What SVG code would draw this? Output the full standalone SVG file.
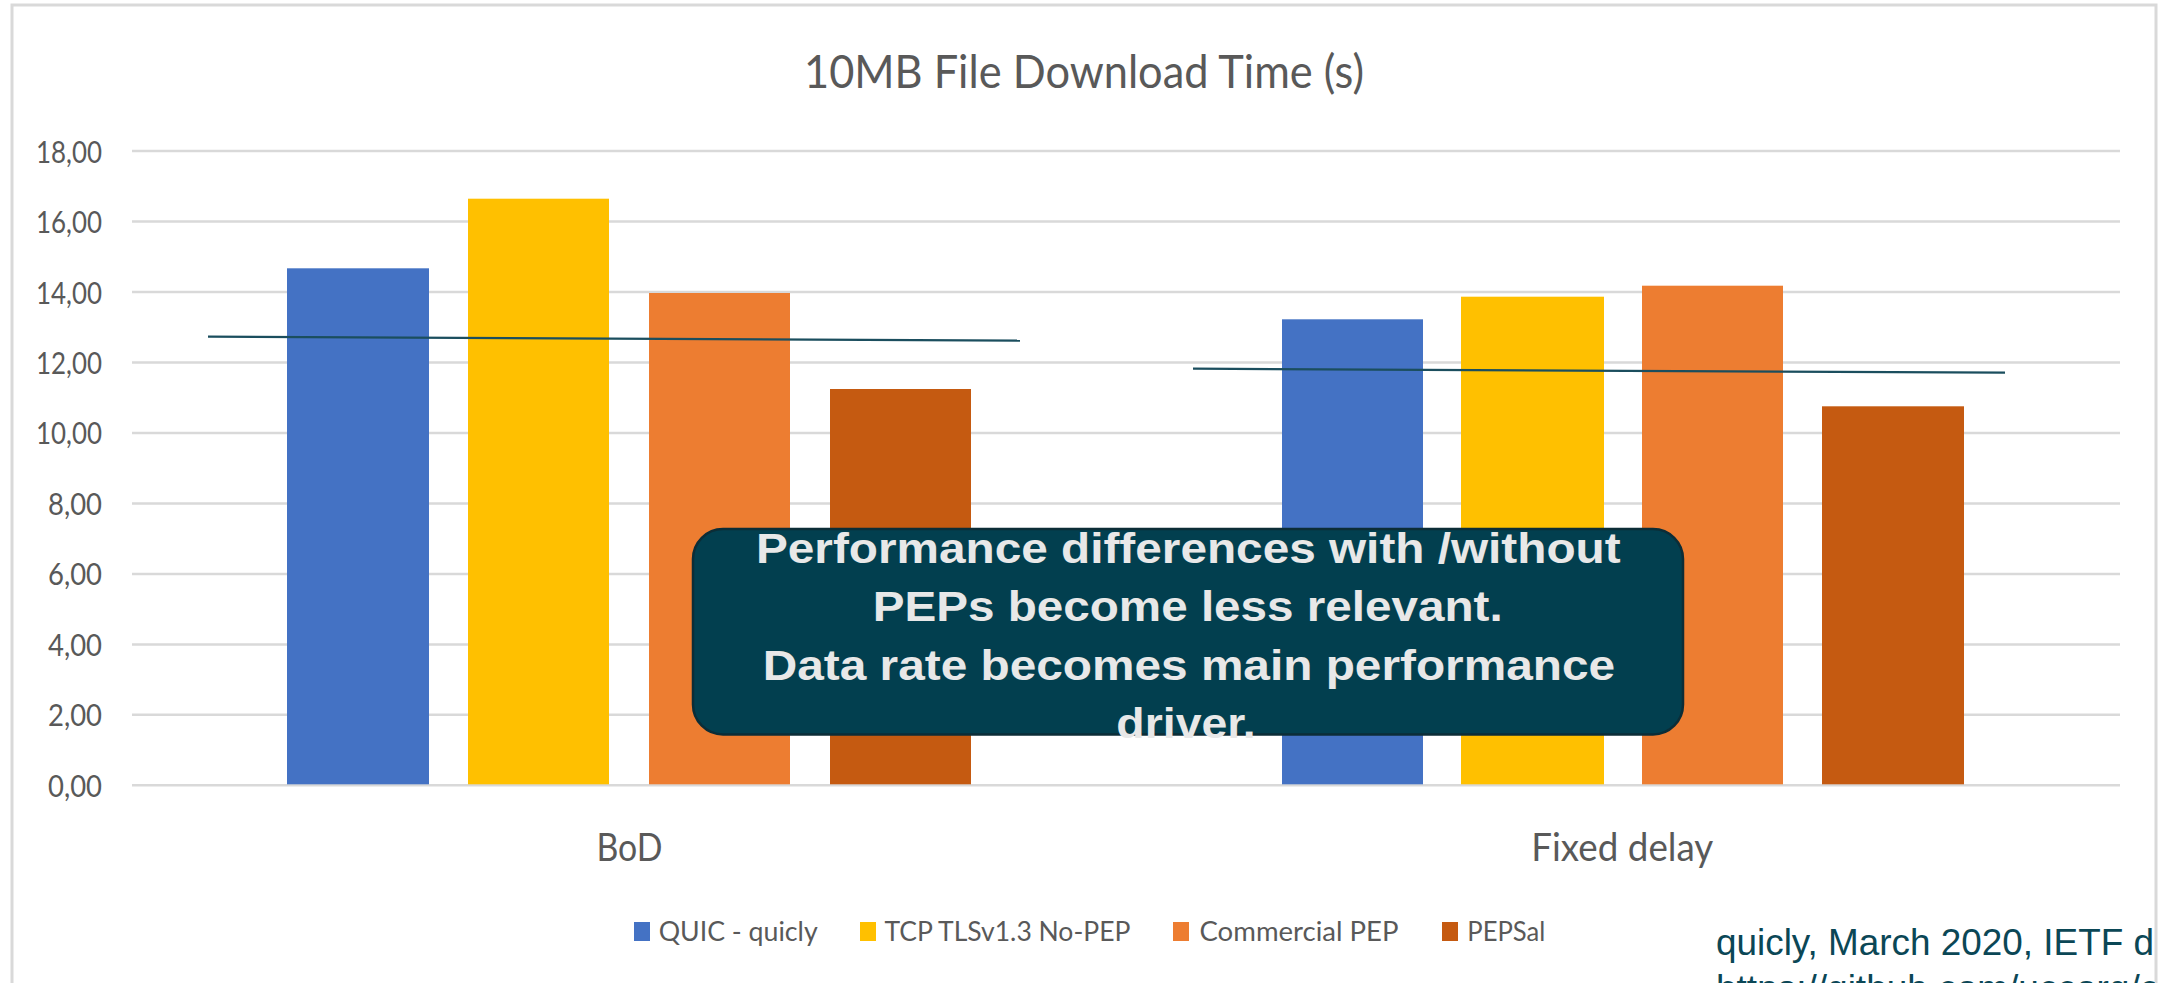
<svg xmlns="http://www.w3.org/2000/svg" width="2160" height="983" viewBox="0 0 2160 983">
  <style>
    .grid { stroke: #d9d9d9; stroke-width: 2.5; }
    .ylab { font-family: Lato, "Open Sans", sans-serif; font-size: 30px; fill: #595959; text-anchor: end; }
    .cat { font-family: Lato, "Open Sans", sans-serif; font-size: 38px; fill: #595959; text-anchor: middle; }
    .leg { font-family: Lato, "Open Sans", sans-serif; font-size: 27px; fill: #595959; }
    .title { font-family: Lato, "Open Sans", sans-serif; font-size: 46px; fill: #595959; }
    .trend { stroke: #1b4e5e; stroke-width: 2.2; fill: none; }
    .callout-text { font-family: "Liberation Sans", Arial, sans-serif; font-weight: bold; font-size: 42px; fill: #e8e8e8; text-anchor: middle; }
    .foot { font-family: "Liberation Sans", Arial, sans-serif; font-size: 37px; fill: #0b4756; }
    .blue { fill: #4472c4; }
    .yellow { fill: #ffc000; }
    .orange { fill: #ed7d31; }
    .dark { fill: #c55a11; }
  </style>
  <defs>
    <clipPath id="footclip"><rect x="0" y="0" width="2155" height="983"/></clipPath>
  </defs>
  <rect x="0" y="0" width="2160" height="983" fill="#ffffff"/>
  <g id="frame" fill="none" stroke="#d9d9d9" stroke-width="3">
    <path d="M12,990 V5 H2156 V990"/>
  </g>
  <g id="title">
    <text class="title" x="804" y="88" textLength="560" lengthAdjust="spacingAndGlyphs">10MB File Download Time (s)</text>
  </g>
  <g id="gridlines">
    <line class="grid" x1="132" y1="151" x2="2120" y2="151"/>
    <line class="grid" x1="132" y1="221.5" x2="2120" y2="221.5"/>
    <line class="grid" x1="132" y1="292" x2="2120" y2="292"/>
    <line class="grid" x1="132" y1="362.4" x2="2120" y2="362.4"/>
    <line class="grid" x1="132" y1="432.9" x2="2120" y2="432.9"/>
    <line class="grid" x1="132" y1="503.4" x2="2120" y2="503.4"/>
    <line class="grid" x1="132" y1="573.9" x2="2120" y2="573.9"/>
    <line class="grid" x1="132" y1="644.4" x2="2120" y2="644.4"/>
    <line class="grid" x1="132" y1="714.8" x2="2120" y2="714.8"/>
    <line class="grid" x1="132" y1="785.3" x2="2120" y2="785.3"/>
  </g>
  <g id="y-axis">
    <text class="ylab" x="102" y="162.5" textLength="66" lengthAdjust="spacingAndGlyphs">18,00</text>
    <text class="ylab" x="102" y="233" textLength="66" lengthAdjust="spacingAndGlyphs">16,00</text>
    <text class="ylab" x="102" y="303.5" textLength="66" lengthAdjust="spacingAndGlyphs">14,00</text>
    <text class="ylab" x="102" y="374" textLength="66" lengthAdjust="spacingAndGlyphs">12,00</text>
    <text class="ylab" x="102" y="444.4" textLength="66" lengthAdjust="spacingAndGlyphs">10,00</text>
    <text class="ylab" x="102" y="515" textLength="54" lengthAdjust="spacingAndGlyphs">8,00</text>
    <text class="ylab" x="102" y="585.4" textLength="54" lengthAdjust="spacingAndGlyphs">6,00</text>
    <text class="ylab" x="102" y="656" textLength="54" lengthAdjust="spacingAndGlyphs">4,00</text>
    <text class="ylab" x="102" y="726.3" textLength="54" lengthAdjust="spacingAndGlyphs">2,00</text>
    <text class="ylab" x="102" y="796.8" textLength="54" lengthAdjust="spacingAndGlyphs">0,00</text>
  </g>
  <g id="bars-bod">
    <rect class="blue" x="287" y="268.3" width="142" height="516"/>
    <rect class="yellow" x="468" y="198.7" width="141" height="585.6"/>
    <rect class="orange" x="649" y="293" width="141" height="491.3"/>
    <rect class="dark" x="830" y="389" width="141" height="395.3"/>
  </g>
  <g id="bars-fixed-delay">
    <rect class="blue" x="1282" y="319.3" width="141" height="465"/>
    <rect class="yellow" x="1461" y="296.7" width="143" height="487.6"/>
    <rect class="orange" x="1642" y="285.7" width="141" height="498.6"/>
    <rect class="dark" x="1822" y="406.3" width="142" height="378"/>
  </g>
  <g id="categories">
    <text class="cat" x="629.5" y="861" textLength="66" lengthAdjust="spacingAndGlyphs">BoD</text>
    <text class="cat" x="1622.3" y="861" textLength="182" lengthAdjust="spacingAndGlyphs">Fixed delay</text>
  </g>
  <g id="legend">
    <rect class="blue" x="634" y="922" width="16" height="19"/>
    <text class="leg" x="658.7" y="940.7" textLength="159" lengthAdjust="spacingAndGlyphs">QUIC - quicly</text>
    <rect class="yellow" x="860" y="922" width="16" height="19"/>
    <text class="leg" x="884.4" y="940.7" textLength="246" lengthAdjust="spacingAndGlyphs">TCP TLSv1.3 No-PEP</text>
    <rect class="orange" x="1173" y="922" width="16" height="19"/>
    <text class="leg" x="1199.5" y="940.7" textLength="199" lengthAdjust="spacingAndGlyphs">Commercial PEP</text>
    <rect class="dark" x="1442" y="922" width="16" height="19"/>
    <text class="leg" x="1467.3" y="940.7" textLength="78" lengthAdjust="spacingAndGlyphs">PEPSal</text>
  </g>
  <g id="connectors">
    <line class="trend" x1="208" y1="336.7" x2="1020" y2="340.7"/>
    <line class="trend" x1="1193" y1="368.7" x2="2005" y2="372.7"/>
  </g>
  <g id="callout">
    <rect x="693" y="529" width="990" height="205.5" rx="30" ry="30" fill="#023f4f" stroke="#0c2d37" stroke-width="2.5"/>
    <text class="callout-text" x="1188.3" y="563.3" textLength="864.7" lengthAdjust="spacingAndGlyphs">Performance differences with /without</text>
    <text class="callout-text" x="1187.7" y="620.7" textLength="630" lengthAdjust="spacingAndGlyphs">PEPs become less relevant.</text>
    <text class="callout-text" x="1188.9" y="680" textLength="852.3" lengthAdjust="spacingAndGlyphs">Data rate becomes main performance</text>
    <text class="callout-text" x="1186" y="738" textLength="139.3" lengthAdjust="spacingAndGlyphs">driver.</text>
  </g>
  <g id="footnote" clip-path="url(#footclip)">
    <text class="foot" x="1716" y="955" textLength="438" lengthAdjust="spacingAndGlyphs">quicly, March 2020, IETF d</text>
    <text class="foot" x="1716" y="1001">https://github.com/uccorg/c</text>
  </g>
</svg>
